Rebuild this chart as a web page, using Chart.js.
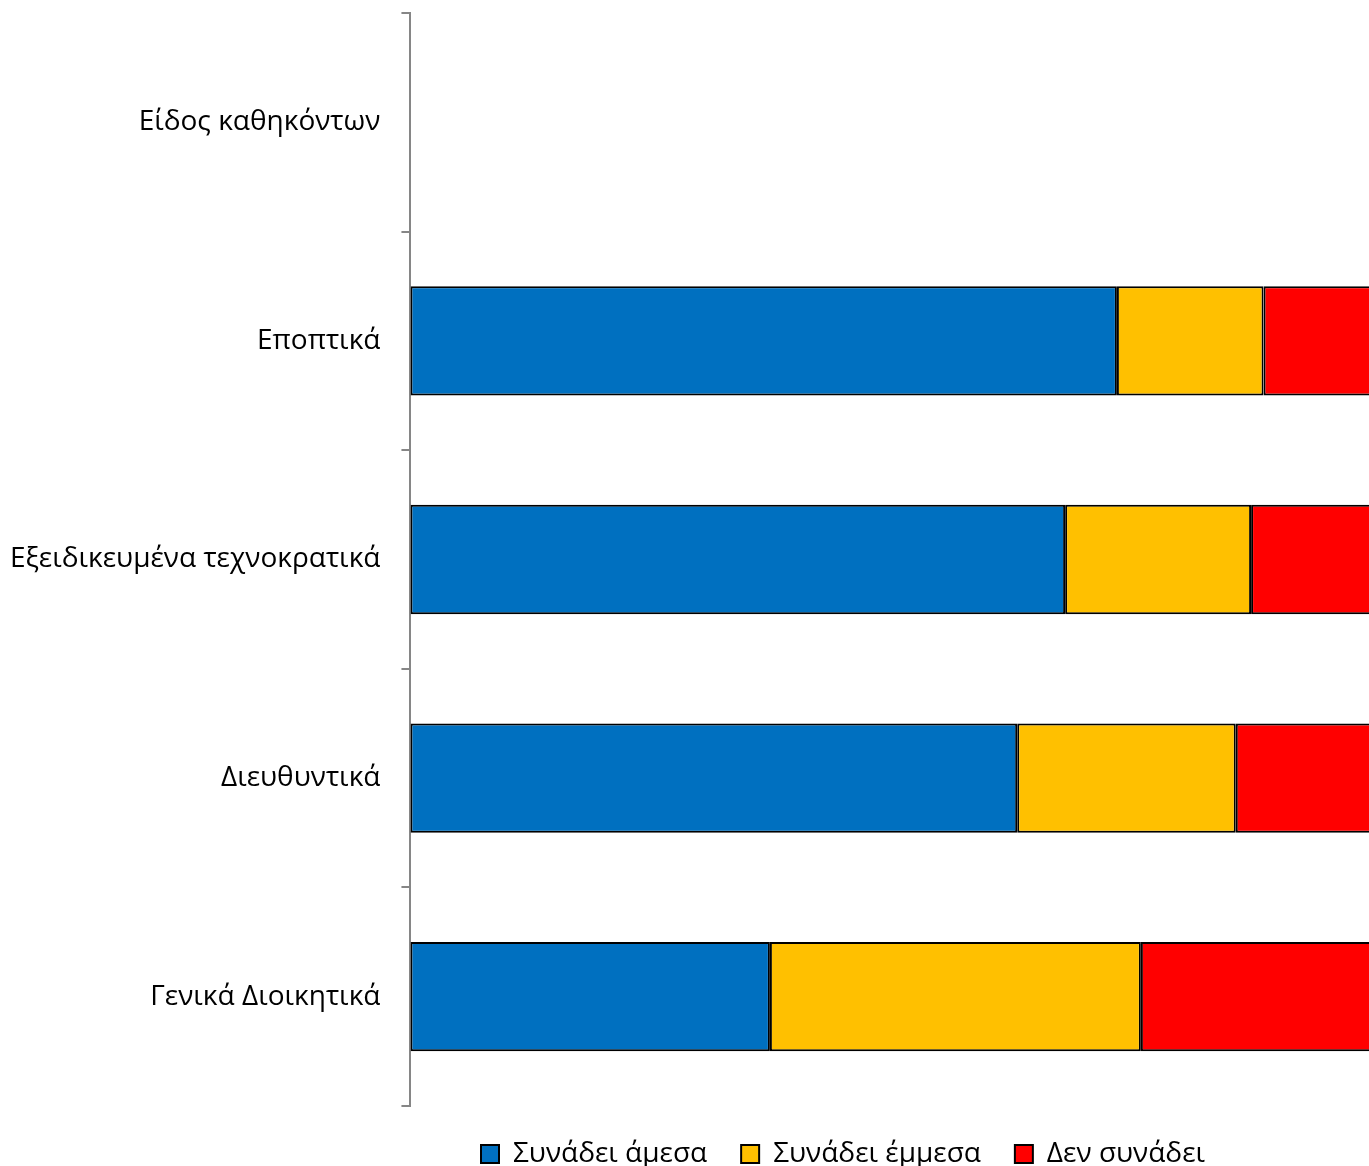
<!DOCTYPE html>
<html><head><meta charset="utf-8">
<script src="https://cdn.jsdelivr.net/npm/chart.js@4/dist/chart.umd.min.js"></script>
<style>html,body{margin:0;padding:0;background:#fff;overflow:hidden}#wrap{width:1369px;height:1166px}</style>
</head><body><div id="wrap"><canvas id="c" width="1369" height="1166"></canvas></div>
<script>
const categories = ["Είδος καθηκόντων", "Εποπτικά", "Εξειδικευμένα τεχνοκρατικά", "Διευθυντικά", "Γενικά Διοικητικά"];
const seriesNames = ["Συνάδει άμεσα", "Συνάδει έμμεσα", "Δεν συνάδει"];
const direct = [null, 73.7, 68.3, 63.3, 37.5];
const indirect = [null, 15.3, 19.4, 22.8, 38.7];
const notMatching = [null, 11.0, 12.3, 13.9, 23.8];
const colors = ["#0070C0", "#FFC000", "#FF0000"];

const legendShift = {
  id: 'legendShift',
  afterLayout(chart) {
    const lg = chart.legend;
    if (!lg) return;
    const target = 843;
    const cur = (lg.left + lg.right) / 2;
    const d = target - cur;
    lg.left += d; lg.right += d;
  }
};

new Chart(document.getElementById('c'), {
  type: 'bar',
  data: {
    labels: categories,
    datasets: [
      {label: seriesNames[0], data: direct, backgroundColor: colors[0], borderColor: '#000', borderWidth: 2, borderSkipped: false},
      {label: seriesNames[1], data: indirect, backgroundColor: colors[1], borderColor: '#000', borderWidth: 2, borderSkipped: false},
      {label: seriesNames[2], data: notMatching, backgroundColor: colors[2], borderColor: '#000', borderWidth: 2, borderSkipped: 'right'}
    ]
  },
  options: {
    indexAxis: 'y',
    responsive: false,
    animation: false,
    barPercentage: 0.5,
    categoryPercentage: 1,
    layout: {padding: {top: 13, left: 0, right: 0, bottom: -12}},
    scales: {
      x: {stacked: true, min: 0, max: 100, display: false},
      y: {
        stacked: true,
        afterFit(scale) { scale.paddingTop = 0; scale.paddingBottom = 0; scale.width -= 11; },
        grid: {display: true, drawOnChartArea: false, drawTicks: true, tickLength: 9, color: '#868686', lineWidth: 2, offset: true},
        border: {display: true, color: '#868686', width: 2},
        ticks: {color: '#000', padding: 21, font: {family: 'Open Sans', size: 28}}
      }
    },
    plugins: {
      legend: {
        position: 'bottom',
        labels: {
          boxWidth: 18, boxHeight: 18, padding: 34,
          color: '#000',
          font: {family: 'Open Sans', size: 28}
        }
      },
      tooltip: {enabled: false}
    }
  },
  plugins: [legendShift]
});
</script></body></html>
